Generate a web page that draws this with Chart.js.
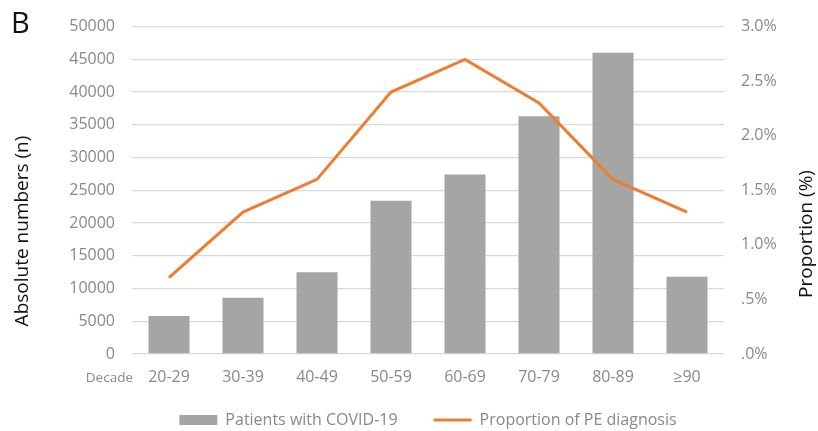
<!DOCTYPE html>
<html>
<head>
<meta charset="utf-8">
<script src="https://cdn.jsdelivr.net/npm/chart.js@4.4.0/dist/chart.umd.min.js"></script>
<style>
  html, body { margin: 0; padding: 0; background: #fff; }
  #wrap { width: 818px; height: 431px; position: relative; }
</style>
</head>
<body>
<div id="wrap"><canvas id="decadeChart"></canvas></div>
<script>
var decades = ['20-29', '30-39', '40-49', '50-59', '60-69', '70-79', '80-89', '≥90'];
var patients = [5800, 8600, 12500, 23400, 27400, 36300, 46000, 11800];
var pePercent = [0.7, 1.3, 1.6, 2.4, 2.7, 2.3, 1.6, 1.3];
var seriesNames = ['Patients with COVID-19', 'Proportion of PE diagnosis'];
var axisTitles = ['Absolute numbers (n)', 'Proportion (%)'];
var panelLetter = 'B';
var xAxisName = 'Decade';

var tickGray = '#898989';
var barGray = '#a5a5a5';
var orange = '#ed7d31';
var fontName = 'Open Sans';

// letter, axis titles and the "Decade" word
var chartText = {
  id: 'chartText',
  afterLayout(chart) {
    // legend box starts a bit higher so its row sits like the excel original
    chart.legend.top -= 21;
    chart.legend.height += 21;
  },
  afterDraw(chart) {
    const { ctx, chartArea: { left } } = chart;
    ctx.save();
    ctx.fillStyle = '#111';
    ctx.textBaseline = 'alphabetic';
    ctx.textAlign = 'left';
    ctx.font = '29px ' + fontName;
    ctx.fillText(panelLetter, 11, 33);

    ctx.font = '19px ' + fontName;
    ctx.textAlign = 'center';
    ctx.textBaseline = 'middle';
    ctx.save();
    ctx.translate(23, 231);
    ctx.rotate(-Math.PI / 2);
    ctx.fillText(axisTitles[0], 0, 0);
    ctx.restore();
    ctx.save();
    ctx.translate(807, 234);
    ctx.rotate(-Math.PI / 2);
    ctx.fillText(axisTitles[1], 0, 0);
    ctx.restore();

    ctx.font = '13.5px ' + fontName;
    ctx.fillStyle = tickGray;
    ctx.textAlign = 'right';
    ctx.fillText(xAxisName, left + 1, 378);
    ctx.restore();
  }
};

var ctx = document.getElementById('decadeChart').getContext('2d');
var decadeChart = new Chart(ctx, {
  data: {
    labels: decades,
    datasets: [
      {
        type: 'line',
        label: seriesNames[1],
        data: pePercent,
        yAxisID: 'y1',
        borderColor: orange,
        backgroundColor: orange,
        borderWidth: 3,
        pointRadius: 0,
        tension: 0,
        order: 0
      },
      {
        type: 'bar',
        label: seriesNames[0],
        data: patients,
        yAxisID: 'y',
        backgroundColor: barGray,
        borderWidth: 0,
        barPercentage: 0.555,
        categoryPercentage: 1,
        order: 1
      }
    ]
  },
  options: {
    responsive: true,
    maintainAspectRatio: false,
    animation: false,
    layout: { padding: { top: 25, bottom: 0, left: 0, right: 0 } },
    scales: {
      x: {
        grid: { display: false, drawTicks: false },
        border: { display: false },
        ticks: { color: tickGray, font: { family: fontName, size: 16 }, padding: 14, maxRotation: 0 },
        afterFit(scale) { scale.height = 43; }
      },
      y: {
        position: 'left',
        min: 0,
        max: 50000,
        ticks: {
          stepSize: 5000,
          color: tickGray,
          font: { family: fontName, size: 16 },
          padding: 17,
          callback: function (v) { return String(v); }
        },
        grid: { color: '#d9d9d9', lineWidth: 1.3, drawTicks: false },
        border: { display: false },
        afterFit(scale) { scale.width = 132; }
      },
      y1: {
        position: 'right',
        min: 0,
        max: 3,
        ticks: {
          stepSize: 0.5,
          color: tickGray,
          font: { family: fontName, size: 16 },
          padding: 17,
          callback: function (v) { return v.toFixed(1).replace(/^0/, '') + '%'; }
        },
        grid: { display: false, drawTicks: false },
        border: { display: false },
        afterFit(scale) { scale.width = 94; }
      }
    },
    plugins: {
      tooltip: { enabled: false },
      legend: {
        position: 'bottom',
        fullSize: false,
        maxHeight: 34,
        labels: {
          usePointStyle: true,
          pointStyleWidth: 38,
          boxHeight: 10,
          padding: 36,
          color: tickGray,
          font: { family: fontName, size: 16 },
          generateLabels: function () {
            return [
              { text: seriesNames[0], fillStyle: barGray, strokeStyle: barGray, lineWidth: 0, pointStyle: 'rect', datasetIndex: 1, fontColor: tickGray },
              { text: seriesNames[1], fillStyle: orange, strokeStyle: orange, lineWidth: 3, pointStyle: 'line', datasetIndex: 0, fontColor: tickGray }
            ];
          }
        }
      }
    }
  },
  plugins: [chartText]
});
</script>
</body>
</html>
